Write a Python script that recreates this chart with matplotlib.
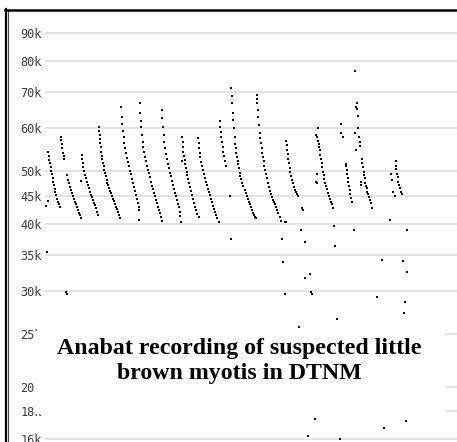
import matplotlib
matplotlib.use("Agg")
import matplotlib.pyplot as plt
from matplotlib.lines import Line2D
from matplotlib.patches import Rectangle
from matplotlib.ticker import FixedLocator, NullLocator

# time (ms, compressed Anabat time) and frequency (kHz) of each dot, one pulse per pair
a_t = [0.8, 0.9, 1.1, 1.25, 1.4, 1.6, 1.75, 1.9, 2.1, 2.25, 2.4, 2.6, 2.8, 3.1, 3.3, 3.6, 3.8]
a_f = [54.3, 53.4, 52.5, 51.7, 50.9, 50.1, 49.4, 48.6, 47.8, 47.1, 46.4, 45.8, 45.1, 44.5, 43.9, 43.4, 42.9]

b_t = [4.0, 4.1, 4.2, 4.3, 4.5, 4.7, 4.8, 5.4, 5.8, 6.0, 6.25, 6.5, 6.75, 7.0, 7.25, 7.5, 7.75, 8.0, 8.25, 8.5, 8.75, 8.9]
b_f = [57.9, 57.1, 56.1, 55.1, 54.1, 53.3, 52.6, 49.2, 48.2, 47.5, 46.8, 46.2, 45.5, 44.9, 44.4, 43.9, 43.4, 42.9, 42.4, 41.9, 41.5, 40.9]

c_t = [9.0, 9.2, 9.25, 9.4, 9.6, 9.8, 10.1, 10.3, 10.6, 10.8, 11.1, 11.3, 11.6, 11.8, 12.1, 12.3, 12.6, 12.8, 13.1, 13.3]
c_f = [48.0, 53.6, 52.7, 51.7, 50.8, 50.0, 49.2, 48.5, 47.8, 47.2, 46.5, 45.8, 45.2, 44.7, 44.2, 43.7, 43.3, 42.7, 42.1, 41.5]

d_t = [13.6, 13.6, 13.7, 13.75, 13.8, 13.9, 14.1, 14.2, 14.3, 14.5, 14.7, 14.8, 15.0, 15.25, 15.4, 15.6, 15.8, 16.1,
       16.3, 16.6, 16.8, 17.1, 17.3, 17.6, 17.8, 18.1, 18.3, 18.5, 18.75]
d_f = [60.3, 59.2, 58.3, 57.3, 56.3, 55.4, 54.3, 53.4, 52.6, 51.7, 51.0, 50.3, 49.6, 48.9, 48.2, 47.6, 47.1, 46.6,
       46.0, 45.5, 45.0, 44.5, 44.0, 43.5, 43.0, 42.5, 42.0, 41.5, 40.9]

e_t = [19.0, 19.2, 19.3, 19.5, 19.7, 19.8, 20.0, 20.2, 20.4, 20.7, 20.9, 21.2, 21.4, 21.7, 21.9, 22.2, 22.4, 22.7,
       22.9, 23.2, 23.4, 23.6, 23.6]
e_f = [65.8, 63.0, 61.1, 59.4, 57.8, 56.3, 55.1, 54.0, 52.8, 52.0, 51.0, 50.1, 49.3, 48.4, 47.6, 46.8, 46.0, 45.2,
       44.4, 43.6, 43.0, 42.4, 40.6]

f_t = [23.75, 23.8, 23.9, 24.1, 24.25, 24.4, 24.6, 24.75, 24.9, 25.2, 25.4, 25.7, 25.9, 26.2, 26.4, 26.7, 26.9,
       27.2, 27.4, 27.7, 27.9, 28.2, 28.4, 28.7, 28.9, 29.2]
f_f = [66.9, 64.0, 62.0, 60.2, 58.3, 56.7, 55.4, 54.2, 53.1, 52.2, 51.2, 50.3, 49.6, 48.7, 47.8, 47.0, 46.3,
       45.5, 44.9, 44.2, 43.6, 43.0, 42.4, 41.8, 41.2, 40.5]

g_t = [29.3, 29.3, 29.5, 29.7, 29.8, 30.0, 30.2, 30.4, 30.7, 30.9, 31.2, 31.4, 31.7, 31.9, 32.2, 32.4, 32.7, 32.9,
       33.2, 33.4, 33.7, 33.8, 34.0]
g_f = [64.9, 62.6, 60.3, 58.3, 56.7, 55.1, 53.8, 52.6, 51.6, 50.6, 49.7, 48.9, 48.0, 47.2, 46.4, 45.6, 44.9, 44.2,
       43.5, 42.9, 42.1, 41.3, 40.3]

h_t = [34.3, 34.3, 34.4, 34.5, 34.6, 34.75, 34.9, 35.1, 35.25, 35.4, 35.6, 35.8, 36.1, 36.3, 36.6, 36.8, 37.1,
       37.3, 37.6, 37.8, 38.1, 38.4]
h_f = [57.9, 52.3, 56.7, 55.5, 54.3, 53.3, 52.4, 51.6, 50.7, 49.9, 49.1, 48.3, 47.5, 46.7, 45.9, 45.1, 44.4,
       43.6, 42.9, 42.3, 41.7, 41.2]

i_t = [38.3, 38.4, 38.5, 38.7, 38.8, 39.0, 39.25, 39.5, 39.75, 40.0, 40.25, 40.5, 40.75, 41.0, 41.25, 41.5, 41.75,
       42.0, 42.25, 42.5, 42.75, 43.1, 43.6]
i_f = [57.5, 56.3, 55.1, 54.0, 53.0, 52.0, 51.1, 50.3, 49.4, 48.6, 47.8, 47.1, 46.4, 45.7, 45.1, 44.4, 43.8,
       43.2, 42.6, 42.0, 41.5, 40.9, 40.3]

j_t = [43.75, 43.8, 43.9, 44.1, 44.25, 44.4, 44.6, 44.8, 45.0, 45.25, 46.2]
j_f = [62.0, 60.3, 59.0, 57.8, 56.7, 55.5, 54.3, 53.3, 52.3, 51.2, 45.0]

k_t = [46.6, 46.75, 46.75, 46.9, 47.0, 47.25, 47.4, 47.6, 47.7, 47.8, 48.0, 48.2, 48.3, 48.5, 48.7, 48.8, 49.1,
       49.3, 49.6, 49.9, 50.2, 50.4, 50.7, 50.9, 51.2, 51.4, 51.7, 51.9, 52.2, 52.4, 52.8]
k_f = [71.1, 68.9, 66.8, 64.1, 62.2, 60.0, 57.8, 56.1, 55.1, 54.1, 53.2, 52.3, 51.5, 50.6, 49.7, 49.0, 48.3,
       47.6, 47.0, 46.2, 45.5, 44.9, 44.4, 43.9, 43.4, 42.9, 42.4, 41.9, 41.5, 41.2, 40.9]

l_t = [53.0, 53.0, 53.1, 53.25, 53.3, 53.5, 53.7, 53.8, 54.0, 54.2, 54.3, 54.5, 54.7, 54.8, 55.0, 55.25, 55.5,
       55.75, 56.0, 56.25, 56.5, 56.75, 57.0, 57.25, 57.5, 57.75, 58.1, 58.3, 58.7, 58.9, 59.9, 60.3]
l_f = [69.1, 67.9, 66.9, 64.9, 62.9, 60.9, 58.9, 57.5, 56.3, 55.1, 54.0, 53.1, 52.2, 51.1, 50.3, 49.4, 48.5,
       47.6, 46.8, 46.0, 45.4, 44.7, 44.2, 43.9, 43.5, 43.0, 42.4, 41.8, 41.1, 40.5, 40.2, 40.35]

m_t = [60.3, 60.4, 60.5, 60.7, 60.8, 61.0, 61.2, 61.3, 61.5, 61.75, 62.0, 62.25, 62.5, 62.75, 63.0, 63.25, 64.25, 64.4]
m_f = [56.9, 55.9, 54.7, 53.7, 52.7, 51.7, 50.7, 49.9, 49.0, 48.2, 47.5, 46.8, 46.2, 45.7, 45.4, 45.0, 42.7, 42.4]

n_t = [68.25, 67.7, 68.0, 68.25, 68.4, 68.5, 68.7, 68.8, 69.0, 69.2, 69.3, 69.5, 69.7, 69.8, 70.0, 70.2, 70.4,
       70.7, 70.9, 71.2, 71.4, 71.75, 72.0, 68.0, 67.75, 68.0]
n_f = [60.0, 58.4, 57.8, 56.9, 56.1, 55.4, 54.6, 53.6, 52.6, 51.7, 50.8, 49.9, 49.1, 48.3, 47.6, 47.0, 46.3,
       45.6, 44.9, 44.4, 43.9, 43.5, 42.7, 49.4, 47.8, 47.5]

o_t = [74.1, 74.1, 74.4, 75.3, 75.3, 75.4, 75.5, 75.7, 75.8, 76.0, 76.2, 76.3, 76.6, 76.8]
o_f = [61.1, 58.9, 57.8, 51.6, 51.0, 50.3, 49.4, 48.5, 47.7, 47.0, 46.2, 45.4, 44.6, 43.9]

p_t = [77.4, 78.0, 77.8, 78.1, 78.25, 78.25, 77.4, 78.4, 78.7, 78.8, 77.7, 79.25, 79.3, 79.5, 79.7, 79.75, 79.9,
       80.1, 80.25, 80.4, 80.6, 80.75, 81.0, 81.25, 81.5, 81.8, 78.9, 79.1]
p_f = [76.6, 66.8, 65.8, 65.1, 63.2, 60.0, 58.7, 57.7, 56.7, 55.7, 54.6, 52.6, 51.7, 50.8, 49.9, 49.2, 48.5,
       47.6, 47.0, 46.5, 45.8, 45.4, 44.7, 44.2, 43.6, 42.7, 47.8, 47.2]

q_t = [87.7, 87.7, 87.8, 88.0, 88.2, 88.3, 88.5, 88.7, 88.9, 89.25, 86.6, 86.7, 87.1, 87.4, 86.3]
q_f = [52.2, 51.1, 50.4, 49.4, 48.7, 47.8, 47.2, 46.5, 45.8, 45.3, 49.4, 48.2, 45.8, 44.9, 40.6]

# scattered single dots (noise / harmonics)
stray_t = [0.2, 0.8, 0.4, 5.25, 5.5, 64.1, 72.25, 77.2, 90.6, 46.4, 59.3, 64.9, 72.4, 59.5, 84.25, 89.5, 90.6,
           66.2, 65.1, 60.1, 66.4, 66.75, 83.0, 90.1, 89.75, 73.0, 63.5, 67.5, 90.3, 84.8, 65.8, 73.75]
stray_f = [43.2, 44.0, 35.5, 29.9, 29.6, 38.95, 39.6, 38.95, 39.0, 37.4, 37.4, 37.0, 36.4, 34.0, 34.3, 34.1, 32.5,
           32.25, 31.8, 29.6, 29.9, 29.65, 29.3, 28.7, 27.4, 26.7, 25.8, 17.4, 17.3, 16.8, 16.2, 16.0]

freq_ticks = [90, 80, 70, 60, 50, 45, 40, 35, 30, 25, 20, 18, 16]
freq_labels = ["90k", "80k", "70k", "60k", "50k", "45k", "40k", "35k", "30k", "25k", "20k", "18k", "16k"]

caption = "Anabat recording of suspected little\nbrown myotis in DTNM"

all_t = (a_t + b_t + c_t + d_t + e_t + f_t + g_t + h_t + i_t + j_t + k_t + l_t + m_t + n_t + o_t + p_t + q_t
         + stray_t)
all_f = (a_f + b_f + c_f + d_f + e_f + f_f + g_f + h_f + i_f + j_f + k_f + l_f + m_f + n_f + o_f + p_f + q_f
         + stray_f)

W, H = 457, 442
fig = plt.figure(figsize=(W / 100, H / 100), dpi=100)
fig.patch.set_facecolor("white")

ax = fig.add_axes([45 / W, 0, 1 - 45 / W, 431 / H])
ax.set_yscale("log")
ax.set_ylim(15.8, 98.8)
ax.set_xlim(0, 103)

for fr in freq_ticks:
    ax.axhline(fr, color="#dadada", lw=1.1, zorder=1)

ax.scatter(all_t, all_f, s=3.4, marker="s", c="black", linewidths=0, zorder=3, clip_on=False)

ax.yaxis.set_major_locator(FixedLocator(freq_ticks))
ax.yaxis.set_minor_locator(NullLocator())
ax.set_yticklabels(freq_labels, family="DejaVu Sans Mono", fontsize=8.6, color="#3a3a3a")
ax.tick_params(axis="y", length=0, pad=2.2)
ax.set_xticks([])
for sp in ax.spines.values():
    sp.set_visible(False)

# window frame: heavy rule on the left and top
fig.add_artist(Line2D([5.8 / W, 5.8 / W], [0, 1 - 9 / H], color="black", lw=1.6, transform=fig.transFigure))
fig.add_artist(Line2D([8.0 / W, 8.0 / W], [0, 1 - 10 / H], color="#444444", lw=0.8, transform=fig.transFigure))
fig.add_artist(Line2D([5 / W, 1], [1 - 10 / H, 1 - 10 / H], color="black", lw=1.8, transform=fig.transFigure))

# caption box pasted over the lower part of the plot
fig.add_artist(Rectangle((34 / W, 1 - 413.5 / H), (445 - 34) / W, (413.5 - 331) / H,
                         facecolor="white", edgecolor="none", transform=fig.transFigure, zorder=5))
fig.text(239.5 / W, 1 - 361 / H, caption, ha="center", va="center", fontsize=17.2, fontweight="bold",
         family="Liberation Serif", linespacing=1.22, zorder=6)

fig.savefig("out.png", dpi=100)
